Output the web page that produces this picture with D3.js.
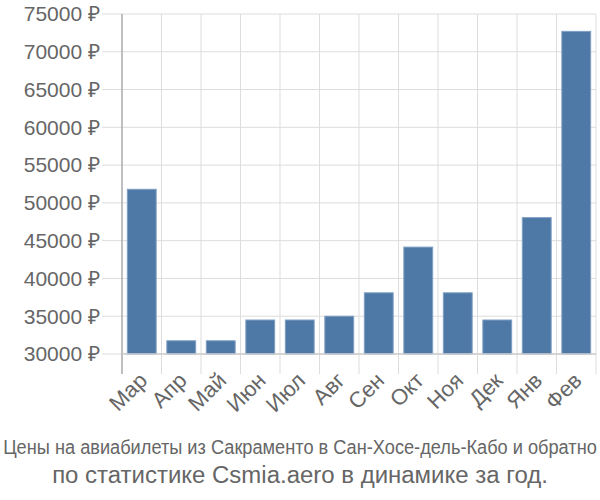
<!DOCTYPE html>
<html><head><meta charset="utf-8">
<script src="https://cdn.jsdelivr.net/npm/d3@7"></script>
<style>body{margin:0;background:#fff}svg{display:block}</style>
</head><body>
<svg id="c" width="600" height="500"></svg>
<script>
const months = ["Мар","Апр","Май","Июн","Июл","Авг","Сен","Окт","Ноя","Дек","Янв","Фев"];
const prices = [51800, 31750, 31750, 34500, 34500, 35000, 38100, 44150, 38100, 34500, 48050, 72700];
const yTicks = [30000,35000,40000,45000,50000,55000,60000,65000,70000,75000];
const titleLines = ["Цены на авиабилеты из Сакраменто в Сан-Хосе-дель-Кабо и обратно","по статистике Csmia.aero в динамике за год."];

(function(){
const svg = d3.select("#c");
const pL = 122, pR = 596, pT = 14, pB = 354;
const x = d3.scaleBand().domain(months).range([pL, pR]).paddingInner(0.27).paddingOuter(0.135);
const y = d3.scaleLinear().domain([30000, 75000]).range([pB, pT]);
const font = "'Liberation Sans', Arial, sans-serif";
const txt = "#666";
const grid = "#dddddd";

svg.append("g").selectAll("line").data(yTicks).join("line")
  .attr("x1", 102).attr("x2", pR).attr("y1", d=>y(d)).attr("y2", d=>y(d))
  .attr("stroke", grid).attr("stroke-width", 1);
const step = x.step();
const bounds = d3.range(months.length + 1).map(i => pL + i*step);
svg.append("g").selectAll("line").data(bounds.slice(1)).join("line")
  .attr("x1", d=>d).attr("x2", d=>d).attr("y1", pT).attr("y2", pB + 20)
  .attr("stroke", grid).attr("stroke-width", 1);

svg.append("g").selectAll("rect").data(prices).join("rect")
  .attr("x", (d,i)=>x(months[i])).attr("width", x.bandwidth())
  .attr("y", d=>y(d)).attr("height", d=>pB - y(d))
  .attr("fill", "#4e79a7").attr("stroke", "#7f9fc4").attr("stroke-width", 1);

svg.append("line").attr("x1", pL).attr("x2", pL).attr("y1", pT).attr("y2", pB+20)
  .attr("stroke", "#aaa").attr("stroke-width", 1.5);
svg.append("line").attr("x1", pL).attr("x2", pR).attr("y1", pB).attr("y2", pB)
  .attr("stroke", "#ccc").attr("stroke-width", 1.5);

svg.append("g").selectAll("text").data(yTicks).join("text")
  .attr("x", 100).attr("y", d=>y(d)).attr("dy", "0.35em")
  .attr("text-anchor", "end").attr("font-family", font).attr("font-size", 21)
  .attr("fill", txt).text(d=>d + " ₽");

svg.append("g").selectAll("text").data(months).join("text")
  .attr("transform", d=>`translate(${x(d)+x.bandwidth()/2-4},${pB+17}) rotate(-45)`)
  .attr("text-anchor", "end").attr("dy", "0.7em").attr("font-family", font).attr("font-size", 22)
  .attr("fill", txt).text(d=>d);

const t1 = svg.append("text").attr("x", 0).attr("y", 0).attr("text-anchor", "middle")
  .attr("font-family", font).attr("font-size", 21).attr("fill", txt).text(titleLines[0]);
const w1 = t1.node().getComputedTextLength();
t1.attr("transform", `translate(300,454) scale(${594 / w1},1)`);
const t2 = svg.append("text").attr("x", 300).attr("y", 483).attr("text-anchor", "middle")
  .attr("font-family", font).attr("font-size", 22).attr("fill", txt).text(titleLines[1]);
const w = t2.node().getComputedTextLength();
t2.attr("font-size", 22 * 496 / w);
})();
</script>
</body></html>
